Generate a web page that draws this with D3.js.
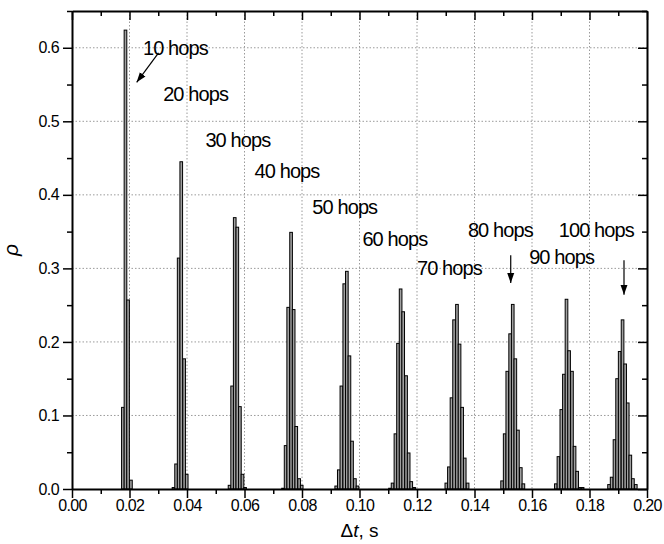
<!DOCTYPE html>
<html>
<head>
<meta charset="utf-8">
<script src="https://cdn.jsdelivr.net/npm/d3@7"></script>
<style>
  body { margin: 0; background: #fff; }
  text { font-family: "Liberation Sans", Arial, sans-serif; fill: #000; }
  .tickLabel { font-size: 16px; letter-spacing: -0.6px; }
  .hopLabel { font-size: 20px; letter-spacing: -0.9px; }
  .grid line { stroke: #9a9a9a; stroke-width: 1; stroke-dasharray: 1.5 2; }
  .axis path, .axis line { stroke: #000; }
  .axis path { stroke-width: 2; }
  .axis line { stroke-width: 1.5; }
</style>
</head>
<body>
<div id="chart"></div>
<script>
// datos: para cada nº de saltos, las posiciones (dt, s) y las probabilidades p del histograma
const hops = [10, 20, 30, 40, 50, 60, 70, 80, 90, 100]

const dt10 = [0.0177, 0.0186, 0.0195, 0.0205]
const p10 = [0.111, 0.624, 0.257, 0.012]
const dt20 = [0.0353, 0.0362, 0.0371, 0.0380, 0.0390, 0.0399]
const p20 = [0.002, 0.034, 0.314, 0.445, 0.177, 0.020]
const dt30 = [0.0548, 0.0557, 0.0566, 0.0575, 0.0584, 0.0593, 0.0602]
const p30 = [0.005, 0.140, 0.369, 0.356, 0.112, 0.020, 0.002]
const dt40 = [0.0734, 0.0743, 0.0752, 0.0762, 0.0771, 0.0780, 0.0790, 0.0799]
const p40 = [0.001, 0.059, 0.247, 0.349, 0.244, 0.085, 0.014, 0.005]
const dt50 = [0.0919, 0.0928, 0.0937, 0.0947, 0.0956, 0.0965, 0.0974, 0.0984, 0.0993]
const p50 = [0.004, 0.026, 0.140, 0.279, 0.296, 0.181, 0.065, 0.014, 0.004]
const dt60 = [0.1106, 0.1115, 0.1125, 0.1134, 0.1143, 0.1152, 0.1162, 0.1171, 0.1180, 0.1190]
const p60 = [0.001, 0.008, 0.075, 0.198, 0.272, 0.241, 0.154, 0.049, 0.010, 0.002]
const dt70 = [0.1302, 0.1311, 0.1320, 0.1329, 0.1339, 0.1348, 0.1357, 0.1366, 0.1376]
const p70 = [0.008, 0.030, 0.124, 0.230, 0.251, 0.197, 0.111, 0.042, 0.008]
const dt80 = [0.1496, 0.1505, 0.1514, 0.1524, 0.1533, 0.1542, 0.1551, 0.1561, 0.1570]
const p80 = [0.011, 0.075, 0.160, 0.211, 0.251, 0.177, 0.080, 0.029, 0.007]
const dt90 = [0.1683, 0.1692, 0.1702, 0.1711, 0.1720, 0.1729, 0.1739, 0.1748, 0.1757, 0.1766, 0.1776]
const p90 = [0.007, 0.044, 0.108, 0.156, 0.258, 0.188, 0.160, 0.058, 0.024, 0.002, 0.002]
const dt100 = [0.1868, 0.1877, 0.1887, 0.1896, 0.1905, 0.1915, 0.1924, 0.1933, 0.1942, 0.1951, 0.1961]
const p100 = [0.006, 0.016, 0.067, 0.150, 0.187, 0.230, 0.170, 0.117, 0.046, 0.014, 0.006]

const dtSeries = [dt10, dt20, dt30, dt40, dt50, dt60, dt70, dt80, dt90, dt100]
const pSeries = [p10, p20, p30, p40, p50, p60, p70, p80, p90, p100]

const xTicks = [0, 0.02, 0.04, 0.06, 0.08, 0.10, 0.12, 0.14, 0.16, 0.18, 0.20]
const xMinor = [0.01, 0.03, 0.05, 0.07, 0.09, 0.11, 0.13, 0.15, 0.17, 0.19]
const yTicks = [0, 0.1, 0.2, 0.3, 0.4, 0.5, 0.6]
const yMinor = [0.05, 0.15, 0.25, 0.35, 0.45, 0.55, 0.65]

// rótulos de cada grupo: [dt inicio del texto, p centro del texto]
const labelPos = [[0.0247, 0.600], [0.0317, 0.537], [0.0464, 0.475], [0.0635, 0.432], [0.0836, 0.384],
                  [0.1010, 0.340], [0.1200, 0.300], [0.1377, 0.352], [0.1590, 0.316], [0.1693, 0.352]]
// flechas: [dt0, p0, dt1, p1]
const arrows = [[0.0301, 0.593, 0.0225, 0.553], [0.1526, 0.318, 0.1526, 0.280], [0.1920, 0.311, 0.1920, 0.264]]

const binWidth = 0.00092

// ----------------------------------------------------------

const width = 664
const height = 544
const margin = { top: 11, bottom: 55, left: 72, right: 17 }
const w = width - margin.left - margin.right
const h = height - margin.top - margin.bottom

const svg = d3.select("div#chart").append("svg")
    .attr("width", width)
    .attr("height", height)

const scaleX = d3.scaleLinear().domain([0, 0.2]).range([0, w])
const scaleY = d3.scaleLinear().domain([0, 0.65]).range([h, 0])

const elementGroup = svg.append("g").attr("transform", `translate(${margin.left} ${margin.top})`)

// rejilla punteada
const grid = elementGroup.append("g").attr("class", "grid")
grid.selectAll("line.gx").data(xTicks.slice(1, -1)).enter().append("line")
    .attr("x1", d => scaleX(d)).attr("x2", d => scaleX(d))
    .attr("y1", 0).attr("y2", h)
grid.selectAll("line.gy").data(yTicks.slice(1)).enter().append("line")
    .attr("x1", 0).attr("x2", w)
    .attr("y1", d => scaleY(d)).attr("y2", d => scaleY(d))

// barras
const bars = []
dtSeries.forEach((s, i) => s.forEach((x, j) => bars.push({ x: x, p: pSeries[i][j] })))
elementGroup.selectAll("rect.bar").data(bars).enter().append("rect")
    .attr("class", "bar")
    .attr("x", d => scaleX(d.x - binWidth / 2))
    .attr("width", scaleX(binWidth) - scaleX(0))
    .attr("y", d => scaleY(d.p))
    .attr("height", d => h - scaleY(d.p))
    .attr("fill", "#a0a0a0")
    .attr("stroke", "#000")
    .attr("stroke-width", 1)

// ejes
const fmt2 = d3.format(".2f"), fmt1 = d3.format(".1f")
const xAxisGroup = elementGroup.append("g").attr("class", "axis").attr("transform", `translate(0 ${h})`)
xAxisGroup.call(d3.axisBottom(scaleX).tickValues(xTicks).tickSize(9).tickSizeOuter(0).tickFormat(fmt2))
xAxisGroup.append("g").call(d3.axisBottom(scaleX).tickValues(xMinor).tickSize(5).tickSizeOuter(0).tickFormat(""))
    .select(".domain").remove()
xAxisGroup.selectAll("text").attr("class", "tickLabel").attr("dy", "0.9em").attr("y", 8)

const yAxisGroup = elementGroup.append("g").attr("class", "axis")
yAxisGroup.call(d3.axisLeft(scaleY).tickValues(yTicks).tickSize(9).tickSizeOuter(0).tickFormat(fmt1))
yAxisGroup.append("g").call(d3.axisLeft(scaleY).tickValues(yMinor).tickSize(5).tickSizeOuter(0).tickFormat(""))
    .select(".domain").remove()
yAxisGroup.selectAll("text").attr("class", "tickLabel").attr("x", -13)

// ejes espejo arriba y a la derecha, marcas hacia dentro
const topAxis = elementGroup.append("g").attr("class", "axis")
topAxis.call(d3.axisBottom(scaleX).tickValues(xTicks).tickSize(9).tickSizeOuter(0).tickFormat(""))
topAxis.append("g").call(d3.axisBottom(scaleX).tickValues(xMinor).tickSize(5).tickSizeOuter(0).tickFormat(""))
    .select(".domain").remove()
const rightAxis = elementGroup.append("g").attr("class", "axis").attr("transform", `translate(${w} 0)`)
rightAxis.call(d3.axisLeft(scaleY).tickValues(yTicks).tickSize(9).tickSizeOuter(0).tickFormat(""))
rightAxis.append("g").call(d3.axisLeft(scaleY).tickValues(yMinor).tickSize(5).tickSizeOuter(0).tickFormat(""))
    .select(".domain").remove()

// títulos de los ejes
const xLabel = elementGroup.append("text")
    .attr("x", w / 2).attr("y", h + 48)
    .attr("text-anchor", "middle")
    .style("font-size", "19px")
xLabel.append("tspan").text("\u0394")
xLabel.append("tspan").text("t").style("font-style", "italic")
xLabel.append("tspan").text(", s")

elementGroup.append("text").text("\u03c1")
    .attr("transform", `translate(${-54} ${scaleY(0.325)}) rotate(-90)`)
    .attr("text-anchor", "middle")
    .style("font-size", "21px")
    .style("font-style", "italic")

// rótulos de nº de saltos
elementGroup.selectAll("text.hopLabel").data(hops).enter().append("text")
    .attr("class", "hopLabel")
    .attr("x", (d, i) => scaleX(labelPos[i][0]))
    .attr("y", (d, i) => scaleY(labelPos[i][1]))
    .attr("dy", "0.35em")
    .text(d => `${d} hops`)

// flechas
svg.append("defs").append("marker")
    .attr("id", "head").attr("viewBox", "0 0 10 10")
    .attr("refX", 10).attr("refY", 5)
    .attr("markerWidth", 10).attr("markerHeight", 10)
    .attr("markerUnits", "userSpaceOnUse")
    .attr("orient", "auto")
    .append("path").attr("d", "M0,1.5 L10,5 L0,8.5 Z").attr("fill", "#000")

elementGroup.selectAll("line.arrow").data(arrows).enter().append("line")
    .attr("x1", d => scaleX(d[0])).attr("y1", d => scaleY(d[1]))
    .attr("x2", d => scaleX(d[2])).attr("y2", d => scaleY(d[3]))
    .attr("stroke", "#000").attr("stroke-width", 1.2)
    .attr("marker-end", "url(#head)")
</script>
</body>
</html>
